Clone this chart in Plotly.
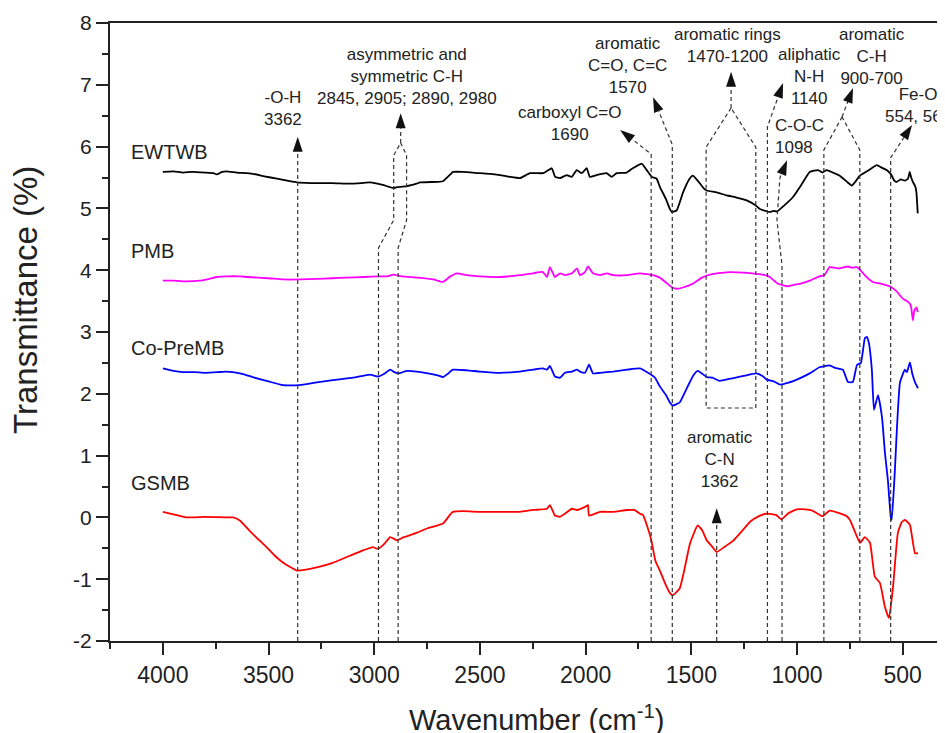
import math
import plotly.graph_objects as go

FONT = "Liberation Sans, Arial, Helvetica, sans-serif"
TXT = "#222222"

# ------------------------------------------------------------------ data
ewtwb_wn = [4000, 3950, 3905, 3860, 3800, 3760, 3745, 3720, 3700, 3650, 3575, 3520, 3460, 3400,
            3366, 3300, 3200, 3115, 3060, 3020, 2960, 2910, 2880, 2845, 2800, 2783, 2700, 2675,
            2640, 2628, 2580, 2500, 2450, 2405, 2358, 2311, 2263, 2200, 2176, 2160, 2144, 2121,
            2090, 2066, 2042, 2018, 1995, 1980, 1948, 1901, 1877, 1853, 1806, 1777, 1734, 1711,
            1687, 1664, 1649, 1620, 1600, 1592, 1569, 1540, 1510, 1493, 1470, 1440, 1427, 1380,
            1333, 1290, 1238, 1200, 1176, 1150, 1129, 1110, 1096, 1060, 1020, 980, 940, 900, 880,
            860, 830, 798, 760, 741, 720, 703, 660, 623, 600, 576, 555, 540, 528, 510, 490, 475,
            467, 460, 452, 440, 435, 429]
ewtwb_t = [5.59, 5.60, 5.58, 5.59, 5.58, 5.57, 5.55, 5.59, 5.60, 5.58, 5.56, 5.52, 5.48, 5.44,
           5.42, 5.41, 5.41, 5.40, 5.41, 5.42, 5.38, 5.33, 5.35, 5.36, 5.40, 5.42, 5.43, 5.44,
           5.55, 5.59, 5.59, 5.57, 5.56, 5.54, 5.51, 5.49, 5.57, 5.57, 5.62, 5.65, 5.51, 5.49,
           5.54, 5.51, 5.62, 5.57, 5.65, 5.51, 5.54, 5.57, 5.51, 5.57, 5.58, 5.65, 5.72, 5.62,
           5.51, 5.48, 5.35, 5.15, 4.98, 4.94, 4.97, 5.25, 5.47, 5.53, 5.45, 5.32, 5.29, 5.26,
           5.21, 5.18, 5.13, 5.06, 4.99, 4.96, 4.94, 4.96, 4.95, 5.05, 5.18, 5.38, 5.59, 5.62, 5.58,
           5.62, 5.58, 5.53, 5.42, 5.37, 5.45, 5.53, 5.62, 5.70, 5.66, 5.62, 5.55, 5.45, 5.43, 5.47,
           5.45, 5.48, 5.59, 5.50, 5.43, 5.35, 5.25, 4.92]

pmb_wn = [4000, 3950, 3900, 3825, 3780, 3745, 3700, 3636, 3600, 3500, 3432, 3350, 3272, 3200,
          3134, 3050, 2980, 2938, 2910, 2870, 2797, 2720, 2675, 2640, 2609, 2560, 2500, 2405,
          2311, 2249, 2202, 2183, 2169, 2145, 2121, 2098, 2065, 2041, 2027, 2003, 1989, 1965,
          1932, 1899, 1870, 1804, 1743, 1681, 1649, 1620, 1590, 1569, 1540, 1493, 1450, 1398,
          1318, 1250, 1191, 1150, 1129, 1090, 1049, 1020, 988, 940, 894, 870, 846, 800, 760, 740,
          718, 700, 680, 642, 600, 562, 530, 500, 480, 467, 460, 452, 445, 434, 429]
pmb_t = [3.83, 3.83, 3.82, 3.83, 3.86, 3.89, 3.90, 3.90, 3.89, 3.87, 3.85, 3.85, 3.86, 3.87,
         3.88, 3.89, 3.90, 3.90, 3.93, 3.90, 3.88, 3.85, 3.81, 3.90, 3.95, 3.92, 3.90, 3.89,
         3.92, 3.95, 3.97, 3.89, 4.05, 3.89, 3.95, 3.92, 3.95, 4.03, 3.92, 3.97, 4.06, 3.95,
         3.92, 3.95, 3.92, 3.92, 3.95, 3.92, 3.88, 3.80, 3.72, 3.70, 3.72, 3.78, 3.88, 3.94,
         3.97, 3.96, 3.94, 3.92, 3.89, 3.78, 3.74, 3.76, 3.78, 3.83, 3.90, 3.92, 4.05, 4.03, 4.06,
         4.04, 4.05, 4.00, 3.92, 3.81, 3.78, 3.74, 3.66, 3.54, 3.50, 3.46, 3.40, 3.19, 3.35, 3.40,
         3.32]

copremb_wn = [4000, 3950, 3905, 3850, 3800, 3740, 3700, 3668, 3620, 3575, 3500, 3432, 3352, 3280,
              3196, 3100, 3020, 2982, 2950, 2925, 2905, 2885, 2845, 2760, 2700, 2675, 2650, 2628,
              2560, 2500, 2405, 2311, 2249, 2202, 2183, 2169, 2145, 2121, 2098, 2065, 2041, 2027,
              2003, 1984, 1965, 1932, 1870, 1804, 1743, 1705, 1672, 1649, 1620, 1600, 1588, 1555,
              1520, 1490, 1470, 1450, 1427, 1400, 1366, 1320, 1280, 1238, 1191, 1160, 1144, 1110,
              1082, 1040, 988, 940, 894, 846, 820, 783, 759, 736, 716, 698, 679, 670, 660, 646, 636,
              617, 598, 584, 570, 556, 552, 537, 528, 513, 490, 480, 466, 455, 442, 428]
copremb_t = [2.41, 2.37, 2.35, 2.35, 2.34, 2.35, 2.36, 2.35, 2.32, 2.27, 2.20, 2.14, 2.14, 2.18,
             2.22, 2.26, 2.31, 2.28, 2.33, 2.39, 2.35, 2.33, 2.37, 2.34, 2.30, 2.27, 2.33, 2.39,
             2.38, 2.36, 2.34, 2.36, 2.39, 2.41, 2.39, 2.45, 2.28, 2.26, 2.34, 2.36, 2.39, 2.36,
             2.34, 2.47, 2.33, 2.34, 2.36, 2.39, 2.41, 2.34, 2.26, 2.12, 1.98, 1.85, 1.81, 1.86,
             2.10, 2.30, 2.37, 2.33, 2.27, 2.26, 2.21, 2.24, 2.27, 2.30, 2.33, 2.28, 2.23, 2.20,
             2.15, 2.18, 2.25, 2.33, 2.43, 2.46, 2.42, 2.39, 2.19, 2.19, 2.47, 2.50, 2.90, 2.92,
             2.82, 2.39, 1.74, 1.98, 1.62, 1.04, 0.60, -0.01, -0.04, 0.77, 1.40, 2.18, 2.39, 2.35,
             2.51, 2.33, 2.19, 2.09]

gsmb_wn = [4000, 3950, 3890, 3800, 3700, 3668, 3636, 3580, 3510, 3470, 3432, 3400, 3366, 3330,
           3272, 3200, 3115, 3050, 3006, 2982, 2950, 2925, 2905, 2892, 2860, 2800, 2750, 2675,
           2640, 2628, 2580, 2500, 2405, 2311, 2249, 2183, 2169, 2145, 2121, 2098, 2065, 2041,
           2003, 1989, 1984, 1932, 1870, 1804, 1770, 1743, 1729, 1711, 1690, 1670, 1649, 1620,
           1600, 1588, 1555, 1530, 1507, 1470, 1450, 1427, 1400, 1380, 1340, 1303, 1260, 1222,
           1180, 1144, 1100, 1073, 1040, 1002, 960, 927, 879, 846, 800, 765, 750, 737, 702, 679,
           655, 632, 608, 584, 565, 546, 523, 505, 490, 466, 442, 428]
gsmb_t = [0.09, 0.05, 0.00, 0.01, 0.00, 0.00, -0.05, -0.25, -0.48, -0.62, -0.73, -0.80, -0.86,
          -0.85, -0.81, -0.74, -0.62, -0.53, -0.48, -0.51, -0.42, -0.32, -0.35, -0.37, -0.32,
          -0.25, -0.18, -0.10, 0.05, 0.09, 0.10, 0.09, 0.09, 0.09, 0.12, 0.14, 0.20, 0.03, 0.01,
          0.06, 0.14, 0.12, 0.17, 0.20, 0.03, 0.09, 0.09, 0.12, 0.12, 0.06, 0.04, -0.12, -0.36,
          -0.70, -0.86, -1.10, -1.23, -1.26, -1.15, -0.80, -0.43, -0.13, -0.20, -0.37, -0.48,
          -0.56, -0.47, -0.38, -0.22, -0.07, 0.02, 0.06, 0.04, -0.03, 0.07, 0.13, 0.13, 0.11,
          0.02, 0.11, 0.07, 0.02, -0.04, -0.14, -0.41, -0.32, -0.41, -0.96, -1.06, -1.45, -1.63,
          -1.13, -0.25, -0.08, -0.04, -0.12, -0.58, -0.58]

series_names = ["EWTWB", "PMB", "Co-PreMB", "GSMB"]
series_colors = ["#000000", "#ff00ff", "#0000ff", "#ff0000"]
series_wn = [ewtwb_wn, pmb_wn, copremb_wn, gsmb_wn]
series_t = [ewtwb_t, pmb_t, copremb_t, gsmb_t]
label_y = [5.91, 4.31, 2.74, 0.56]

x_ticks = [4000, 3500, 3000, 2500, 2000, 1500, 1000, 500]
y_ticks = [-2, -1, 0, 1, 2, 3, 4, 5, 6, 7, 8]

# ------------------------------------------------------------------ layout geometry
# (the page body has an 8px default margin, so figure coordinates are offset by 8px)
OFF = 8
W, H = 945, 733
L, R, T, B = 110 - OFF, 945 - OFF, 23 - OFF, 641 - OFF
X0, X1 = 4250, 300
Y0, Y1 = -2, 8


def to_px(x, y):
    return (L + (X0 - x) / (X0 - X1) * (R - L), B - (y - Y0) / (Y1 - Y0) * (B - T))


def to_data(px, py):
    return (X0 - (px - L) / (R - L) * (X0 - X1), Y0 + (B - py) / (B - T) * (Y1 - Y0))


def path_str(pts):
    return "M " + " L ".join(f"{x:.2f},{y:.4f}" for x, y in pts)


# callouts: text, text position, dashed branches, stem ending in an arrow tip
callouts = [
    dict(text="-O-H<br>3362", tx=3432, ty=6.62, anchor="center", branches=[],
         stem=[(3362, -2), (3362, 6.16)]),
    dict(text="asymmetric and<br>symmetric C-H<br>2845, 2905; 2890, 2980", tx=2845, ty=7.13,
         anchor="center",
         branches=[[(2980, -2), (2980, 4.36), (2908, 4.81), (2908, 5.86), (2875, 6.06)],
                   [(2887, -2), (2887, 4.36), (2847, 4.81), (2847, 5.86), (2875, 6.06)]],
         stem=[(2875, 6.06), (2875, 6.54)]),
    dict(text="carboxyl C=O<br>1690", tx=2074, ty=6.37, anchor="center", branches=[],
         stem=[(1690, -2), (1690, 5.88), (1837, 6.27)]),
    dict(text="aromatic<br>C=O, C=C<br>1570", tx=1800, ty=7.32, anchor="center", branches=[],
         stem=[(1590, -2), (1590, 6.03), (1681, 6.80)]),
    dict(text="aromatic rings<br>1470-1200", tx=1331, ty=7.63, anchor="center",
         branches=[[(1312, 6.625), (1430, 5.99), (1430, 1.77), (1195, 1.77), (1195, 5.99),
                    (1312, 6.625)]],
         stem=[(1312, 6.625), (1312, 7.21)]),
    dict(text="aliphatic<br>N-H<br>1140", tx=939, ty=7.14, anchor="center", branches=[],
         stem=[(1140, -2), (1140, 6.32), (1066, 7.03)]),
    dict(text="C-O-C<br>1098", tx=1114, ty=6.16, anchor="left", branches=[],
         stem=[(1071, -2), (1071, 4.08), (1095, 4.81), (1081, 5.49), (1047, 5.78)]),
    dict(text="aromatic<br>C-H<br>900-700", tx=645, ty=7.45, anchor="center",
         branches=[[(873, -2), (873, 5.945), (787, 6.48)],
                   [(703, -2), (703, 5.945), (787, 6.48)]],
         stem=[(787, 6.48), (735, 6.95)]),
    dict(text="Fe-O<br>554, 564", tx=428, ty=6.67, anchor="center", branches=[],
         stem=[(557, -2), (557, 5.82), (456, 6.35)]),
    dict(text="aromatic<br>C-N<br>1362", tx=1364, ty=0.93, anchor="center", branches=[],
         stem=[(1380, -2), (1380, 0.15)]),
]

HEAD_LEN, HEAD_HALF = 15, 5
DASH = dict(color="#333333", width=1.2, dash="4px,3px")

fig = go.Figure()
for name, wn, t, c in zip(series_names, series_wn, series_t, series_colors):
    fig.add_trace(go.Scatter(x=wn, y=t, mode="lines", name=name,
                             line=dict(color=c, width=1.8, shape="spline", smoothing=0.4),
                             showlegend=False, hoverinfo="skip"))

shapes = []
annotations = []
for co in callouts:
    for br in co["branches"]:
        shapes.append(dict(type="path", path=path_str(br), xref="x", yref="y",
                           line=DASH, layer="above"))
    stem = co["stem"]
    (ax, ay), (tx_, ty_) = to_px(*stem[-2]), to_px(*stem[-1])
    ux, uy = tx_ - ax, ty_ - ay
    n = math.hypot(ux, uy)
    ux, uy = ux / n, uy / n
    bx, by = tx_ - ux * HEAD_LEN, ty_ - uy * HEAD_LEN
    base = to_data(bx, by)
    shapes.append(dict(type="path", path=path_str(stem[:-1] + [base]), xref="x", yref="y",
                       line=DASH, layer="above"))
    p1 = to_data(bx - uy * HEAD_HALF, by + ux * HEAD_HALF)
    p2 = to_data(bx + uy * HEAD_HALF, by - ux * HEAD_HALF)
    shapes.append(dict(type="path", path=path_str([stem[-1], p1, p2]) + " Z", xref="x",
                       yref="y", fillcolor="#111111", line=dict(width=0), layer="above"))
    annotations.append(dict(text=co["text"], x=co["tx"], y=co["ty"], xref="x", yref="y",
                            xanchor=co["anchor"], yanchor="middle", align=co["anchor"],
                            showarrow=False, font=dict(family=FONT, size=17, color=TXT)))

for name, yy in zip(series_names, label_y):
    annotations.append(dict(text=name, x=4162, y=yy, xref="x", yref="y", xanchor="left",
                            yanchor="middle", showarrow=False,
                            font=dict(family=FONT, size=20, color=TXT)))

# axis titles (positions in screen pixels converted to paper units)
annotations.append(dict(text="Wavenumber (cm<sup>-1</sup>)", x=(536 - OFF - L) / (R - L),
                        y=(B - (718 - OFF)) / (B - T), xref="paper", yref="paper",
                        xanchor="center", yanchor="middle", showarrow=False,
                        font=dict(family=FONT, size=29, color=TXT)))
annotations.append(dict(text="Transmittance (%)", x=(26 - OFF - L) / (R - L),
                        y=(B - (300 - OFF)) / (B - T), xref="paper", yref="paper",
                        xanchor="center", yanchor="middle", textangle=-90, showarrow=False,
                        font=dict(family=FONT, size=33, color=TXT)))

fig.update_layout(
    width=W, height=H,
    margin=dict(l=L, r=W - R, t=T, b=H - B, autoexpand=False),
    paper_bgcolor="white", plot_bgcolor="white",
    shapes=shapes, annotations=annotations,
    xaxis=dict(range=[X0, X1], tickvals=x_ticks, ticktext=[str(v) for v in x_ticks],
               ticks="outside", ticklen=12, tickwidth=2, tickcolor=TXT,
               showline=True, linewidth=2, linecolor=TXT, mirror=True,
               showgrid=False, zeroline=False, automargin=False,
               tickfont=dict(family=FONT, size=23, color=TXT),
               minor=dict(dtick=250, tick0=0, ticks="outside", ticklen=6, tickwidth=2,
                          tickcolor=TXT, showgrid=False)),
    yaxis=dict(range=[Y0, Y1], tickvals=y_ticks, ticktext=[str(v) for v in y_ticks],
               ticks="outside", ticklen=12, tickwidth=2, tickcolor=TXT,
               showline=True, linewidth=2, linecolor=TXT, mirror=False,
               showgrid=False, zeroline=False, automargin=False,
               tickfont=dict(family=FONT, size=21, color=TXT),
               minor=dict(dtick=0.5, tick0=0, ticks="outside", ticklen=6, tickwidth=2,
                          tickcolor=TXT, showgrid=False)),
)

fig.write_html("out.html")
